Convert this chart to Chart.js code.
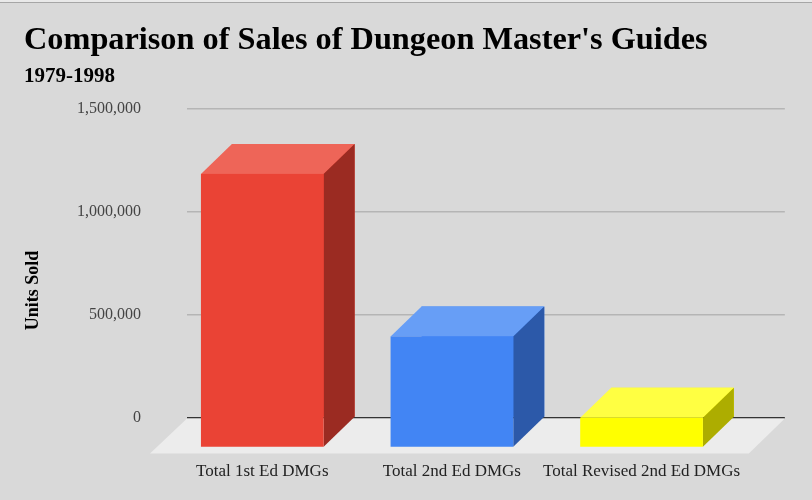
<!DOCTYPE html>
<html>
<head>
<meta charset="utf-8">
<script src="https://cdn.jsdelivr.net/npm/chart.js@4"></script>
<style>
  html, body { margin: 0; padding: 0; background: #d9d9d9; }
  #wrap { position: relative; width: 812px; height: 500px; }
  #edge { position: absolute; left: 0; top: 0; width: 812px; height: 2px; background: #e9e9e9; border-bottom: 1px solid #a6a6a6; }
</style>
</head>
<body>
<div id="wrap">
  <canvas id="chart" width="812" height="500"></canvas>
  <div id="edge"></div>
</div>
<script>
// Chart data
const categories = ['Total 1st Ed DMGs', 'Total 2nd Ed DMGs', 'Total Revised 2nd Ed DMGs'];
const unitsSold = [1330000, 540000, 145000];
const yTicks = [0, 500000, 1000000, 1500000];
const yAxisTitle = 'Units Sold';

// Face colours (front / top / side)
const frontColors = ['#ea4335', '#4285f4', '#ffff00'];
const topColors = ['#ee6558', '#679ef6', '#ffff42'];
const sideColors = ['#9b2b22', '#2c59a9', '#adad00'];

const DEPTH_X = 31, DEPTH_Y = 30;
const SERIF = "'Liberation Serif', 'DejaVu Serif', serif";

// Draws the floor and turns every bar into a box
const bar3d = {
    id: 'bar3d',
    beforeDatasetsDraw(chart) {
        const { ctx, chartArea: a } = chart;
        ctx.save();
        ctx.fillStyle = '#ececec';
        ctx.beginPath();
        ctx.moveTo(a.left, a.bottom + 1);
        ctx.lineTo(a.right, a.bottom + 1);
        ctx.lineTo(a.right - 36, a.bottom + 36);
        ctx.lineTo(a.left - 37, a.bottom + 36);
        ctx.closePath();
        ctx.fill();
        ctx.restore();
    },
    afterDatasetsDraw(chart) {
        const { ctx } = chart;
        const meta = chart.getDatasetMeta(0);
        ctx.save();
        meta.data.forEach((bar, i) => {
            const { x, y, base, width } = bar.getProps(['x', 'y', 'base', 'width'], true);
            const left = x - width / 2, right = x + width / 2;
            const top = Math.min(y, base), bottom = Math.max(y, base);

            // top face
            ctx.fillStyle = topColors[i];
            ctx.beginPath();
            ctx.moveTo(left - DEPTH_X, top + DEPTH_Y);
            ctx.lineTo(left, top);
            ctx.lineTo(right, top);
            ctx.lineTo(right - DEPTH_X, top + DEPTH_Y);
            ctx.closePath();
            ctx.fill();

            // side face
            ctx.fillStyle = sideColors[i];
            ctx.beginPath();
            ctx.moveTo(right - DEPTH_X, top + DEPTH_Y);
            ctx.lineTo(right, top);
            ctx.lineTo(right, bottom);
            ctx.lineTo(right - DEPTH_X, bottom + DEPTH_Y);
            ctx.closePath();
            ctx.fill();

            // front face
            ctx.fillStyle = frontColors[i];
            ctx.fillRect(left - DEPTH_X, top + DEPTH_Y, width, bottom - top);
        });
        ctx.restore();
    },
    afterDraw(chart) {
        // y axis title sits a bit lower than the plot centre in the original
        const { ctx, chartArea: a } = chart;
        ctx.save();
        ctx.translate(33, a.bottom - 127);
        ctx.rotate(-Math.PI / 2);
        ctx.fillStyle = '#000';
        ctx.font = "bold 18px " + SERIF;
        ctx.textAlign = 'center';
        ctx.textBaseline = 'middle';
        ctx.fillText(yAxisTitle, 0, 0);
        ctx.restore();
    }
};

new Chart(document.getElementById('chart'), {
    type: 'bar',
    data: {
        datasets: [{
            data: categories.map((c, i) => ({ x: i, y: unitsSold[i] })),
            backgroundColor: frontColors,
            borderWidth: 0,
            categoryPercentage: 1,
            barPercentage: 0.647
        }]
    },
    options: {
        responsive: false,
        animation: false,
        devicePixelRatio: 1,
        layout: { padding: { left: 24, right: 26, top: 11, bottom: 0 } },
        plugins: {
            legend: { display: false },
            tooltip: { enabled: false },
            title: {
                display: true,
                text: "Comparison of Sales of Dungeon Master's Guides",
                align: 'start',
                color: '#000',
                font: { family: SERIF, size: 32.3, weight: 'bold' },
                padding: { top: 10, bottom: 0 }
            },
            subtitle: {
                display: true,
                text: '1979-1998',
                align: 'start',
                color: '#000',
                font: { family: SERIF, size: 21, weight: 'bold' },
                padding: { top: 4, bottom: 20 }
            }
        },
        scales: {
            x: {
                type: 'linear',
                offset: false,
                min: -0.5605,
                max: 2.592,
                afterBuildTicks: s => { s.ticks = categories.map((c, i) => ({ value: i })); },
                afterFit: s => { s.height = 82.5; },
                ticks: {
                    callback: v => categories[v],
                    labelOffset: -31,
                    padding: 36,
                    maxRotation: 0,
                    autoSkip: false,
                    color: '#222',
                    font: { family: SERIF, size: 17 }
                },
                grid: { display: false, offset: false },
                border: { display: false }
            },
            y: {
                min: 0,
                max: 1500000,
                afterBuildTicks: s => { s.ticks = yTicks.map(v => ({ value: v })); },
                afterFit: s => { s.width = 163; },
                ticks: {
                    callback: v => v.toLocaleString('en-US'),
                    padding: 46,
                    color: '#444',
                    font: { family: SERIF, size: 16 }
                },
                grid: {
                    color: c => c.tick.value === 0 ? '#333333' : '#b5b5b5',
                    lineWidth: 1.5,
                    drawTicks: false
                },
                border: { display: false },
                title: { display: false }
            }
        }
    },
    plugins: [bar3d]
});
</script>
</body>
</html>
